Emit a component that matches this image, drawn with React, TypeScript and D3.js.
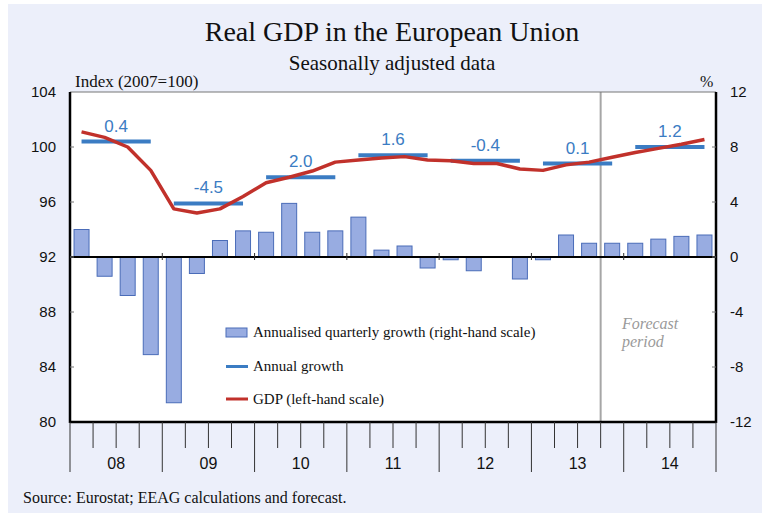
import { useEffect, useRef } from 'react'
import * as d3 from 'd3'

const years = ['08', '09', '10', '11', '12', '13', '14']
const quarters = years.flatMap(y => ['Q1', 'Q2', 'Q3', 'Q4'].map(q => `${y}${q}`))

// annualised quarterly growth, % (right-hand scale)
const quarterlyGrowth = [
  2.0, -1.4, -2.8, -7.1, -10.6, -1.2, 1.2, 1.9,
  1.8, 3.9, 1.8, 1.9, 2.9, 0.5, 0.8, -0.8,
  -0.2, -1.0, 0.0, -1.6, -0.2, 1.6, 1.0, 1.0,
  1.0, 1.3, 1.5, 1.6
]

// GDP index, 2007 = 100 (left-hand scale)
const gdpIndex = [
  101.1, 100.7, 100.0, 98.3, 95.5, 95.2, 95.5, 96.4,
  97.4, 97.8, 98.25, 98.9, 99.05, 99.2, 99.3, 99.05,
  99.0, 98.8, 98.8, 98.4, 98.3, 98.7, 98.9, 99.25,
  99.6, 99.9, 100.2, 100.55
]

// annual average level (left-hand scale) and annual growth labels
const annualLevel = [100.4, 95.9, 97.8, 99.4, 99.0, 98.8, 100.0]
const annualLabels = ['0.4', '-4.5', '2.0', '1.6', '-0.4', '0.1', '1.2']

const leftTicks = [80, 84, 88, 92, 96, 100, 104]
const rightTicks = [-12, -8, -4, 0, 4, 8, 12]
const forecastStart = '13Q4'

const SERIF = '"Liberation Serif", "Times New Roman", serif'
const SANS = '"Liberation Sans", Arial, sans-serif'

export default function App() {
  const svgRef = useRef<SVGSVGElement>(null)

  useEffect(() => {
    if (!svgRef.current) return
    const svg = d3.select(svgRef.current)
    svg.selectAll('*').remove()

    const W = 762
    const H = 516
    const left = 70, right = 716, top = 92, bottom = 422

    svg.attr('width', W).attr('height', H)

    // background panel
    svg.append('rect')
      .attr('x', 8).attr('y', 4)
      .attr('width', W - 8).attr('height', 509)
      .attr('fill', '#eceffa')

    svg.append('rect')
      .attr('x', left).attr('y', top)
      .attr('width', right - left).attr('height', bottom - top)
      .attr('fill', '#ffffff')

    // Scales
    const x = d3.scaleBand<string>()
      .domain(quarters)
      .range([left, right])
      .paddingInner(0.35)
      .paddingOuter(0.175)
    const step = x.step()
    const cx = (q: string) => (x(q) as number) + x.bandwidth() / 2
    const edge = (i: number) => left + i * step

    const yL = d3.scaleLinear().domain([80, 104]).range([bottom, top])
    const yR = d3.scaleLinear().domain([-12, 12]).range([bottom, top])

    // Title
    svg.append('text')
      .attr('x', 392).attr('y', 41)
      .attr('text-anchor', 'middle')
      .style('font-family', SERIF).style('font-size', '28px')
      .attr('fill', '#111')
      .text('Real GDP in the European Union')

    svg.append('text')
      .attr('x', 392).attr('y', 70)
      .attr('text-anchor', 'middle')
      .style('font-family', SERIF).style('font-size', '21px')
      .attr('fill', '#111')
      .text('Seasonally adjusted data')

    svg.append('text')
      .attr('x', 75).attr('y', 87)
      .style('font-family', SERIF).style('font-size', '17px')
      .attr('fill', '#111')
      .text('Index (2007=100)')

    svg.append('text')
      .attr('x', 700).attr('y', 87)
      .style('font-family', SERIF).style('font-size', '16px')
      .attr('fill', '#111')
      .text('%')

    // Forecast divider
    const fi = quarters.indexOf(forecastStart)
    svg.append('line')
      .attr('x1', edge(fi)).attr('x2', edge(fi))
      .attr('y1', top).attr('y2', bottom)
      .attr('stroke', '#a6a6a6').attr('stroke-width', 2)

    svg.append('text')
      .attr('x', 622).attr('y', 329)
      .style('font-family', SERIF).style('font-size', '16px').style('font-style', 'italic')
      .attr('fill', '#9a9a9a')
      .text('Forecast')
    svg.append('text')
      .attr('x', 622).attr('y', 347)
      .style('font-family', SERIF).style('font-size', '16px').style('font-style', 'italic')
      .attr('fill', '#9a9a9a')
      .text('period')

    // Bars
    svg.selectAll('.bar')
      .data(quarterlyGrowth)
      .enter().append('rect')
      .attr('class', 'bar')
      .attr('x', (_, i) => x(quarters[i]) as number)
      .attr('width', x.bandwidth())
      .attr('y', d => yR(Math.max(0, d)))
      .attr('height', d => Math.abs(yR(d) - yR(0)))
      .attr('fill', '#98ace1')
      .attr('stroke', '#4a6cb8')
      .attr('stroke-width', 1)
      .style('display', d => (d === 0 ? 'none' : null))

    // Annual growth segments
    years.forEach((yr, i) => {
      const x1 = cx(`${yr}Q1`)
      const x2 = cx(`${yr}Q4`)
      const yy = yL(annualLevel[i])
      svg.append('line')
        .attr('x1', x1).attr('x2', x2)
        .attr('y1', yy).attr('y2', yy)
        .attr('stroke', '#3b7cc3').attr('stroke-width', 4)
      svg.append('text')
        .attr('x', (x1 + x2) / 2).attr('y', yy - 10)
        .attr('text-anchor', 'middle')
        .style('font-family', SANS).style('font-size', '17px')
        .attr('fill', '#3b7cc3')
        .text(annualLabels[i])
    })

    // GDP line
    const line = d3.line<number>()
      .x((_, i) => cx(quarters[i]))
      .y(d => yL(d))
    svg.append('path')
      .datum(gdpIndex)
      .attr('fill', 'none')
      .attr('stroke', '#c1312b')
      .attr('stroke-width', 3.5)
      .attr('stroke-linejoin', 'round')
      .attr('d', line)

    // Axes frame
    svg.append('line')
      .attr('x1', left).attr('x2', right).attr('y1', top).attr('y2', top)
      .attr('stroke', '#777').attr('stroke-width', 1)
    svg.append('line')
      .attr('x1', left).attr('x2', left).attr('y1', top).attr('y2', bottom + 1)
      .attr('stroke', '#000').attr('stroke-width', 2.5)
    svg.append('line')
      .attr('x1', right).attr('x2', right).attr('y1', top).attr('y2', bottom + 1)
      .attr('stroke', '#000').attr('stroke-width', 2.5)
    svg.append('line')
      .attr('x1', left).attr('x2', right).attr('y1', bottom).attr('y2', bottom)
      .attr('stroke', '#000').attr('stroke-width', 2.5)
    svg.append('line')
      .attr('x1', left).attr('x2', right).attr('y1', yR(0)).attr('y2', yR(0))
      .attr('stroke', '#000').attr('stroke-width', 2)

    // inner y ticks
    leftTicks.slice(1, -1).forEach(t => {
      svg.append('line')
        .attr('x1', left).attr('x2', left + 4)
        .attr('y1', yL(t)).attr('y2', yL(t))
        .attr('stroke', '#777')
    })
    rightTicks.slice(1, -1).forEach(t => {
      svg.append('line')
        .attr('x1', right - 4).attr('x2', right)
        .attr('y1', yR(t)).attr('y2', yR(t))
        .attr('stroke', '#777')
    })

    // y tick labels
    leftTicks.forEach(t => {
      svg.append('text')
        .attr('x', 56).attr('y', yL(t) + 5)
        .attr('text-anchor', 'end')
        .style('font-family', SANS).style('font-size', '15px')
        .attr('fill', '#111')
        .text(t)
    })
    rightTicks.forEach(t => {
      svg.append('text')
        .attr('x', 730).attr('y', yR(t) + 5)
        .style('font-family', SANS).style('font-size', '15px')
        .attr('fill', '#111')
        .text(t)
    })

    // x ticks below plot and small ticks on the zero line
    d3.range(quarters.length + 1).forEach(i => {
      const yearEdge = i % 4 === 0
      svg.append('line')
        .attr('x1', edge(i)).attr('x2', edge(i))
        .attr('y1', bottom).attr('y2', yearEdge ? 472 : 448)
        .attr('stroke', '#333').attr('stroke-width', 1)
      if (yearEdge && i > 0 && i < quarters.length) {
        svg.append('line')
          .attr('x1', edge(i)).attr('x2', edge(i))
          .attr('y1', yR(0) - 4).attr('y2', yR(0) + 3)
          .attr('stroke', '#333').attr('stroke-width', 1)
      }
    })

    years.forEach((yr, i) => {
      svg.append('text')
        .attr('x', edge(i * 4 + 2)).attr('y', 469)
        .attr('text-anchor', 'middle')
        .style('font-family', SANS).style('font-size', '16px')
        .attr('fill', '#111')
        .text(yr)
    })

    // Legend
    const lg = svg.append('g').attr('transform', 'translate(226,0)')
    lg.append('rect')
      .attr('x', 0).attr('y', 328).attr('width', 21).attr('height', 9)
      .attr('fill', '#98ace1').attr('stroke', '#4a6cb8')
    lg.append('line')
      .attr('x1', 0).attr('x2', 22).attr('y1', 366.5).attr('y2', 366.5)
      .attr('stroke', '#3b7cc3').attr('stroke-width', 3)
    lg.append('line')
      .attr('x1', 0).attr('x2', 22).attr('y1', 399).attr('y2', 399)
      .attr('stroke', '#c1312b').attr('stroke-width', 3)
    const legendText = [
      ['Annualised quarterly growth (right-hand scale)', 337],
      ['Annual growth', 371],
      ['GDP (left-hand scale)', 404]
    ] as const
    legendText.forEach(([t, yy]) => {
      lg.append('text')
        .attr('x', 27).attr('y', yy)
        .style('font-family', SERIF).style('font-size', '15px')
        .attr('fill', '#111')
        .text(t)
    })

    // Source
    svg.append('text')
      .attr('x', 23).attr('y', 503)
      .style('font-family', SERIF).style('font-size', '16px')
      .attr('fill', '#111')
      .text('Source: Eurostat; EEAG calculations and forecast.')
  }, [])

  return (
    <div style={{ position: 'absolute', left: 0, top: 0 }}>
      <svg ref={svgRef} style={{ display: 'block' }}></svg>
    </div>
  )
}
